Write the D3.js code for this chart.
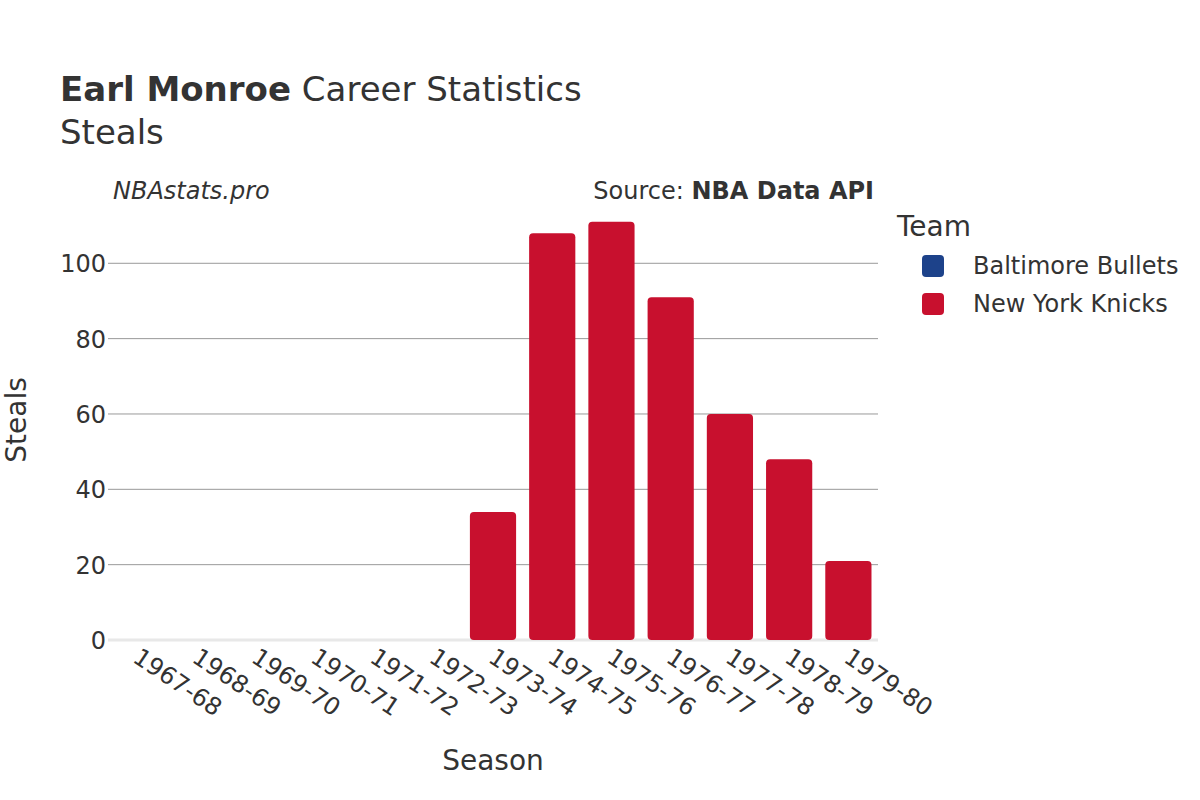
<!DOCTYPE html>
<html>
<head>
<meta charset="utf-8">
<script src="https://cdn.jsdelivr.net/npm/d3@7"></script>
<style>
  body { margin: 0; background: #fff; }
  text { font-family: "DejaVu Sans", sans-serif; fill: #333; }
</style>
</head>
<body>
<div id="chart"></div>
<script>
// Données
const seasons = ["1967-68", "1968-69", "1969-70", "1970-71", "1971-72", "1972-73",
  "1973-74", "1974-75", "1975-76", "1976-77", "1977-78", "1978-79", "1979-80"];
const teams = ["Baltimore Bullets", "New York Knicks"];
const teamColors = ["#1d428a", "#c8102e"];
const seasonTeam = ["Baltimore Bullets", "Baltimore Bullets", "Baltimore Bullets", "Baltimore Bullets",
  "Baltimore Bullets", "New York Knicks", "New York Knicks", "New York Knicks", "New York Knicks",
  "New York Knicks", "New York Knicks", "New York Knicks", "New York Knicks"];
const steals = [0, 0, 0, 0, 0, 0, 34, 108, 111, 91, 60, 48, 21];
const yTicks = [0, 20, 40, 60, 80, 100];

const width = 1200, height = 800;
const margin = { left: 108, right: 322, top: 200, bottom: 160 };

const svg = d3.select("#chart").append("svg")
  .attr("width", width)
  .attr("height", height);

const x = d3.scaleBand()
  .domain(seasons)
  .range([margin.left, width - margin.right])
  .paddingInner(0.22)
  .paddingOuter(0.11);

const y = d3.scaleLinear()
  .domain([0, 116.8])
  .range([height - margin.bottom, margin.top]);

const color = d3.scaleOrdinal().domain(teams).range(teamColors);

// Grille
svg.append("g")
  .selectAll("line")
  .data(yTicks.filter(d => d > 0))
  .enter().append("line")
  .attr("x1", margin.left).attr("x2", width - margin.right)
  .attr("y1", d => y(d)).attr("y2", d => y(d))
  .attr("stroke", "#999").attr("stroke-width", 1);

// Ligne zéro
svg.append("line")
  .attr("x1", margin.left).attr("x2", width - margin.right)
  .attr("y1", y(0)).attr("y2", y(0))
  .attr("stroke", "#e8e8e8").attr("stroke-width", 3);

// Axe Y
const yAxis = svg.append("g")
  .attr("transform", `translate(${margin.left},0)`)
  .call(d3.axisLeft(y).tickValues(yTicks).tickSize(0).tickPadding(2));
yAxis.select(".domain").remove();
yAxis.selectAll("text").style("font-size", "24px").attr("fill", "#333").attr("dy", "0.35em");

// Barres
svg.append("g")
  .selectAll("rect")
  .data(seasons.map((s, i) => ({ season: s, team: seasonTeam[i], value: steals[i] })).filter(d => d.value > 0))
  .enter().append("rect")
  .attr("x", d => x(d.season))
  .attr("width", x.bandwidth())
  .attr("y", d => y(d.value))
  .attr("height", d => y(0) - y(d.value))
  .attr("rx", 4)
  .attr("fill", d => color(d.team));

// Axe X
const xAxis = svg.append("g")
  .attr("transform", `translate(0,${y(0)})`)
  .call(d3.axisBottom(x).tickSize(0).tickPadding(0));
xAxis.select(".domain").remove();
xAxis.selectAll("text")
  .style("font-size", "24px")
  .attr("fill", "#333")
  .attr("text-anchor", "start")
  .attr("dy", "0")
  .attr("transform", "translate(-6,21) rotate(34)");

// Titres
const title = svg.append("text").attr("x", 60).attr("y", 101).style("font-size", "34px");
title.append("tspan").attr("font-weight", "bold").text("Earl Monroe");
title.append("tspan").text(" Career Statistics");
svg.append("text").attr("x", 60).attr("y", 144).style("font-size", "34px").text("Steals");

svg.append("text").attr("x", 113).attr("y", 199)
  .style("font-size", "24px").style("font-style", "italic").text("NBAstats.pro");
const src = svg.append("text").attr("x", 874).attr("y", 199)
  .attr("text-anchor", "end").style("font-size", "24px");
src.append("tspan").text("Source: ");
src.append("tspan").attr("font-weight", "bold").text("NBA Data API");

// Titres des axes
svg.append("text").attr("x", 493).attr("y", 770)
  .attr("text-anchor", "middle").style("font-size", "28px").text("Season");
svg.append("text")
  .attr("transform", `translate(26,${(y(0) + margin.top) / 2}) rotate(-90)`)
  .attr("text-anchor", "middle").style("font-size", "28px").text("Steals");

// Légende
const legend = svg.append("g").attr("transform", "translate(897,0)");
legend.append("text").attr("x", 0).attr("y", 236).style("font-size", "28px").text("Team");
const item = legend.selectAll("g.item")
  .data(teams)
  .enter().append("g")
  .attr("transform", (d, i) => `translate(0,${266 + i * 38})`);
item.append("rect")
  .attr("x", 25).attr("y", -11).attr("width", 22).attr("height", 22).attr("rx", 4)
  .attr("fill", d => color(d));
item.append("text")
  .attr("x", 76).attr("dy", "0.35em")
  .style("font-size", "24px").text(d => d);
</script>
</body>
</html>
